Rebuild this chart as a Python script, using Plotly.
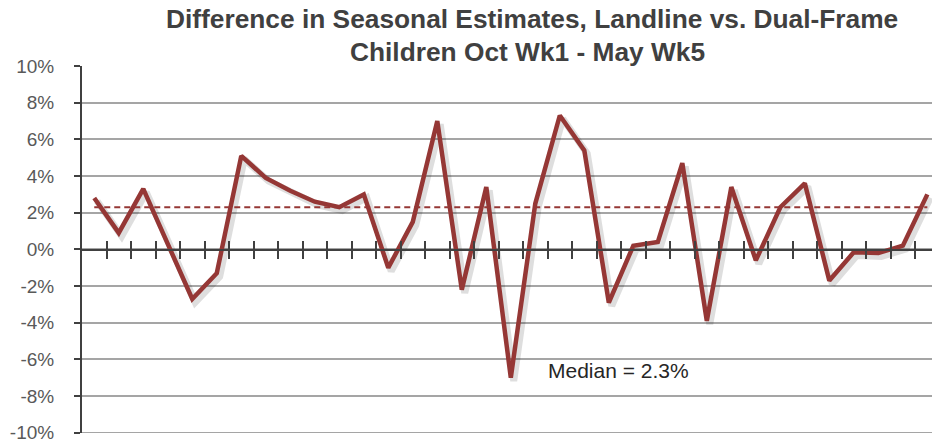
import plotly.graph_objects as go

# Weekly difference (landline minus dual-frame), children, Oct Wk1 .. May Wk5
weeks = list(range(35))
diff_pct = [2.8, 0.9, 3.3, 0.3, -2.7, -1.3, 5.1, 3.9, 3.2, 2.6,
            2.3, 3.0, -1.0, 1.5, 7.0, -2.2, 3.4, -7.0, 2.5, 7.3,
            5.4, -2.9, 0.2, 0.4, 4.7, -3.9, 3.4, -0.6, 2.3, 3.6,
            -1.7, -0.15, -0.2, 0.2, 3.0]
median_pct = 2.3

y_ticks = [-10, -8, -6, -4, -2, 0, 2, 4, 6, 8, 10]
y_tick_text = [f"{v}%" for v in y_ticks]

title_lines = ["Difference in Seasonal Estimates, Landline vs. Dual-Frame",
               "Children Oct Wk1 - May Wk5"]

RED = "#953735"
DARK = "#404040"
GRID = "#a5a5a5"
FONT = "Liberation Sans, Arial, sans-serif"

W, H = 932, 442
PLOT_L, PLOT_TOP, PLOT_H = 82, 66, 367
x_range = [-0.5, 34.19]
boundaries = [w + 0.5 for w in weeks[:-1]]

fig = go.Figure()

# soft drop shadow under the series line
fig.add_trace(go.Scatter(
    x=[w + 0.12 for w in weeks], y=[v - 0.18 for v in diff_pct],
    mode="lines", line=dict(color="rgba(0,0,0,0.13)", width=7),
    hoverinfo="skip", showlegend=False,
))

fig.add_trace(go.Scatter(
    x=weeks, y=[median_pct] * len(weeks), xaxis="x2",
    mode="lines", line=dict(color=RED, width=2, dash="6px,4px"),
    hoverinfo="skip", showlegend=False,
))

fig.add_trace(go.Scatter(
    x=weeks, y=diff_pct, mode="lines",
    line=dict(color=RED, width=4.5),
    showlegend=False,
))

fig.add_annotation(
    x=21.4, y=-6.6, xref="x", yref="y",
    text=f"Median = {median_pct}%", showarrow=False,
    font=dict(family=FONT, size=21, color="#262626"),
)

# two-line bold title, each line placed by its centre (pixel coords)
for text, cx, cy in [(title_lines[0], 532, 19), (title_lines[1], 527, 52)]:
    fig.add_annotation(
        x=(cx - PLOT_L) / (W - PLOT_L), y=1 + (PLOT_TOP - cy) / PLOT_H,
        xref="x domain", yref="y domain",
        text=f"<b>{text}</b>", showarrow=False,
        xanchor="center", yanchor="middle",
        font=dict(family=FONT, size=26.3, color=DARK),
    )

# bottom gridline at the -10% edge
fig.add_shape(
    type="line", xref="x domain", yref="y", x0=0, x1=1, y0=-10, y1=-10,
    line=dict(color=GRID, width=1.5), layer="below",
)

axis_common = dict(
    range=x_range, anchor="free", position=0.5,
    showgrid=False, zeroline=False, showticklabels=False,
    showline=True, linecolor=DARK, linewidth=2,
    tickmode="array", tickvals=boundaries,
    ticks="outside", ticklen=8, tickwidth=2, tickcolor=DARK,
)

fig.update_layout(
    width=W, height=H,
    margin=dict(l=PLOT_L, r=0, t=PLOT_TOP, b=H - PLOT_TOP - PLOT_H),
    paper_bgcolor="white", plot_bgcolor="white",
    xaxis=dict(**axis_common, side="bottom"),
    xaxis2=dict(**axis_common, side="top", overlaying="x"),
    yaxis=dict(
        range=[-10.01, 10], tickmode="array", tickvals=y_ticks, ticktext=y_tick_text,
        showgrid=True, gridcolor=GRID, gridwidth=1.5,
        zeroline=False,
        showline=True, linecolor=DARK, linewidth=2,
        ticks="outside", ticklen=6, tickwidth=2, tickcolor=DARK,
        ticklabelstandoff=16, ticklabeloverflow="allow",
        tickfont=dict(family=FONT, size=19, color="#595959"),
    ),
)

fig.write_html("out.html")
